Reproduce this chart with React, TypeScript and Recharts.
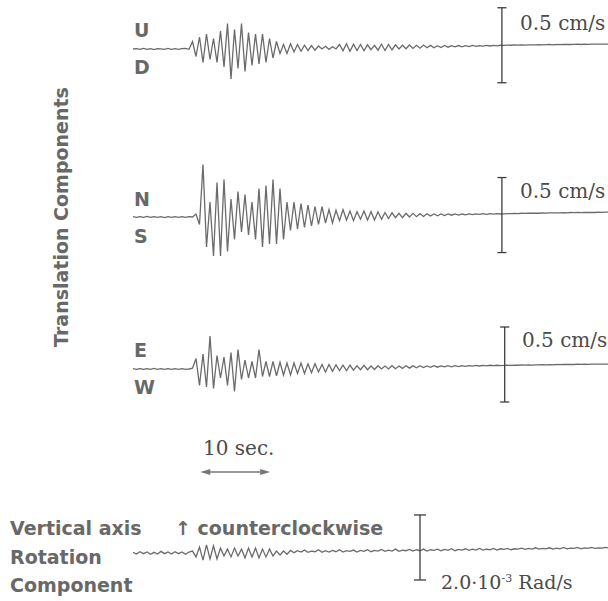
import React from 'react';
import { LineChart, Line, XAxis, YAxis, ReferenceLine } from 'recharts';

// Sampling step of every record (seconds)
const SAMPLE_STEP_S = 0.5;

// Up-Down velocity (cm/s)
const udVelocity = [
  0, .003, -.002, .004, -.003, .002, -.004, .003, .001, -.003, .004, -.002, .003, -.003, .002, .004, -.002,
  .05, -.05, .08, -.09, .1, -.07, .07, -.09, .12, -.12, .17, -.2, .13, -.13, .17, -.15, .11, -.11, .1, -.1, .1, -.09, .07, -.06, .05, -.03, .03, -.03,
  .035, -.02, .03, -.015, .025, -.01, .022, -.008, .02, 0, .018, -.002, .015, 0, .03, -.012, .035, -.015, .032, -.01,
  .03, -.012, .028, -.005, .025, -.008, .032, -.01, .03, -.005, .028, 0, .025, .002, .027, .004, .025, .005, .026, .008,
  .024, .008, .022, .01, .024, .012, .022, .014, .023, .015, .022, .016, .024, .017, .023, .019, .024, .02, .024, .021, .025,
  .024, .026, .025, .027, .026, .028, .026, .027, .028, .027, .029, .028, .029, .03, .028, .03, .029, .031, .03, .03,
  .031, .032, .03, .032, .031, .033, .032, .032, .033, .033, .033,
];

// North-South velocity (cm/s)
const nsVelocity = [
  .003, -.003, .002, -.002, .004, -.003, .003, -.002, .002, -.004, .003, -.002, .003, -.003, .002, -.002, .003, 0,
  .02, -.05, .35, -.2, .1, -.26, .23, -.26, .25, -.23, .12, -.15, .17, -.1, .15, -.12, .1, -.15, .19, -.2, .21, -.18, .25, -.18, .19, -.15,
  .1, -.09, .1, -.08, .09, -.07, .08, -.06, .07, -.05, .07, -.04, .05, -.04, .045, -.025, .05, -.02, .04, -.025,
  .035, -.015, .04, -.02, .035, -.02, .035, -.015, .03, -.01, .028, -.005, .025, -.005, .025, 0, .024, .002, .022, .004,
  .022, .006, .02, .008, .02, .01, .021, .012, .02, .013, .02, .014, .021, .016, .021, .017, .022, .018, .022, .019, .023, .02,
  .021, .023, .022, .024, .023, .025, .024, .026, .025, .026, .025, .027, .026, .028, .027, .028, .027, .029, .028, .03,
  .029, .03, .029, .031, .03, .031, .03, .032, .031, .032, .032,
];

// East-West velocity (cm/s)
const ewVelocity = [
  .002, -.003, .003, -.002, .002, -.003, .004, -.002, .002, -.003, .003, -.002, .003, -.003, .002, -.002, 0, .005,
  .07, -.11, .1, -.12, .22, -.13, .09, -.06, .08, -.11, .11, -.15, .13, -.07, .06, -.06, .05, -.06, .13, -.05, .05, -.05, .05, -.045, .045, -.04, .04,
  -.04, .04, -.03, .04, -.03, .035, -.025, .035, -.02, .03, -.02, .03, -.015, .028, -.01, .025, -.01, .025, -.008, .022,
  -.005, .025, -.005, .02, -.003, .022, 0, .02, 0, .022, .002, .02, .004, .022, .006, .021, .008, .022, .01, .02,
  .011, .022, .012, .021, .014, .022, .015, .022, .016, .023, .018, .023, .019, .024, .02, .024, .021, .025, .022, .025, .023,
  .024, .025, .024, .026, .025, .027, .026, .027, .026, .028, .027, .029, .028, .029, .028, .03, .029, .031, .03, .031,
  .03, .032, .031, .032, .031, .033, .032, .033, .032, .033, .033,
];

// Rotation rate about the vertical axis (10^-3 rad/s), counterclockwise positive
const rotationRate = [
  .02, -.03, .04, -.02, .03, -.04, .02, -.03, .05, -.02, .03, -.03, .04, -.02, .03, -.04, .03,
  .06, -.12, .18, -.22, .25, -.18, .22, -.18, .15, -.09, .12, -.12, .15, -.09, .12, -.15, .15, -.12, .15, -.15, .12, -.12, .12, -.09, .06, -.06, .06, -.04,
  .08, .01, .07, .03, .09, .02, .06, .04, .1, .02, .07,
  .03, .08, .04, .1, .03, .07, .05, .09, .03, .08, .05,
  .1, .04, .08, .06, .11, .05, .09, .06, .12, .05, .09,
  .07, .11, .06, .1, .07, .12, .06, .1, .08, .12, .07,
  .11, .08, .13, .07, .11, .09, .13, .08, .12, .09, .14,
  .09, .12, .1, .14, .09, .13,
  .11, .14, .1, .13, .12, .15, .11, .14, .12, .16, .12, .14, .13, .16, .12, .15, .13, .17, .13, .15,
  .14, .17, .13, .16, .14, .17, .14, .16, .15, .17, .15,
];

// Scale annotations
const velocityScaleSpan = 0.5;
const velocityScaleLabel = '0.5 cm/s';
const rotationScaleSpan = 2.0;
const timeScaleSpan = 10;
const timeScaleLabel = '10 sec.';

const componentLetters = [
  ['U', 'D'],
  ['N', 'S'],
  ['E', 'W'],
];

// Layout
const WIDTH = 608;
const HEIGHT = 601;
const PLOT_LEFT = 133;
const PX_PER_SEC = 7;
const T_MAX = (WIDTH - PLOT_LEFT) / PX_PER_SEC;
const TRACE_COLOR = '#6b6b6b';
const BAR_COLOR = '#3d3d3d';
const LABEL_COLOR = '#686868';
const SERIF_COLOR = '#4a4a4a';
const SANS = '"DejaVu Sans", sans-serif';
const SERIF = '"DejaVu Serif", serif';

type Bar = { t: number; low: number; span: number; cap: number };

function Trace({
  values,
  zeroY,
  height,
  pxPerUnit,
  bar,
}: {
  values: number[];
  zeroY: number;
  height: number;
  pxPerUnit: number;
  bar: Bar;
}) {
  const rows = values.map((v, i) => ({ t: i * SAMPLE_STEP_S, v }));
  const half = height / 2 / pxPerUnit;
  const top = bar.low + bar.span;
  return (
    <div style={{ position: 'absolute', left: 0, top: zeroY - height / 2 }}>
      <LineChart
        width={WIDTH}
        height={height}
        data={rows}
        margin={{ top: 0, right: 0, bottom: 0, left: PLOT_LEFT }}
      >
        <XAxis dataKey="t" type="number" domain={[0, T_MAX]} allowDataOverflow hide />
        <YAxis type="number" domain={[-half, half]} allowDataOverflow hide />
        <Line
          type="linear"
          dataKey="v"
          stroke={TRACE_COLOR}
          strokeWidth={1.3}
          dot={false}
          isAnimationActive={false}
        />
        <ReferenceLine
          segment={[{ x: bar.t, y: bar.low }, { x: bar.t, y: top }]}
          stroke={BAR_COLOR}
          strokeWidth={1.3}
        />
        <ReferenceLine
          segment={[{ x: bar.t - bar.cap, y: top }, { x: bar.t + bar.cap, y: top }]}
          stroke={BAR_COLOR}
          strokeWidth={1.3}
        />
        <ReferenceLine
          segment={[{ x: bar.t - bar.cap, y: bar.low }, { x: bar.t + bar.cap, y: bar.low }]}
          stroke={BAR_COLOR}
          strokeWidth={1.3}
        />
      </LineChart>
    </div>
  );
}

const xOf = (t: number) => PLOT_LEFT + t * PX_PER_SEC;

export default function App() {
  const arrowStart = 9.6;
  const arrowEnd = arrowStart + timeScaleSpan;
  const ax0 = xOf(arrowStart);
  const ax1 = xOf(arrowEnd);
  const ay = 472;

  const letterRows = [
    { top: 37, bottom: 74 },
    { top: 206, bottom: 243 },
    { top: 357, bottom: 394 },
  ];
  const scaleLabelPos = [
    { x: 520, y: 30 },
    { x: 520, y: 198 },
    { x: 522, y: 347 },
  ];

  const bold = { fontFamily: SANS, fontWeight: 700, fontSize: 19, fill: LABEL_COLOR };
  const serif = { fontFamily: SERIF, fontSize: 20, fill: SERIF_COLOR };

  return (
    <div
      style={{
        position: 'absolute',
        left: 0,
        top: 0,
        width: WIDTH,
        height: HEIGHT,
        background: '#fff',
        overflow: 'hidden',
      }}
    >
      <Trace
        values={udVelocity}
        zeroY={49}
        height={160}
        pxPerUnit={150}
        bar={{ t: 52.7, low: -0.225, span: velocityScaleSpan, cap: 0.65 }}
      />
      <Trace
        values={nsVelocity}
        zeroY={217}
        height={160}
        pxPerUnit={150}
        bar={{ t: 52.7, low: -0.237, span: velocityScaleSpan, cap: 0.65 }}
      />
      <Trace
        values={ewVelocity}
        zeroY={369}
        height={160}
        pxPerUnit={150}
        bar={{ t: 53.1, low: -0.22, span: velocityScaleSpan, cap: 0.65 }}
      />
      <Trace
        values={rotationRate}
        zeroY={553}
        height={100}
        pxPerUnit={32.5}
        bar={{ t: 41, low: -0.83, span: rotationScaleSpan, cap: 0.86 }}
      />

      <svg
        width={WIDTH}
        height={HEIGHT}
        style={{ position: 'absolute', left: 0, top: 0, pointerEvents: 'none' }}
      >
        <text
          {...bold}
          x={68}
          y={217}
          textAnchor="middle"
          transform="rotate(-90 68 217)"
        >
          Translation Components
        </text>

        {componentLetters.map(([up, down], k) => (
          <g key={up}>
            <text {...bold} x={134} y={letterRows[k].top}>{up}</text>
            <text {...bold} x={134} y={letterRows[k].bottom}>{down}</text>
            <text {...serif} x={scaleLabelPos[k].x} y={scaleLabelPos[k].y}>{velocityScaleLabel}</text>
          </g>
        ))}

        <text {...serif} x={203} y={455}>{timeScaleLabel}</text>
        <line x1={ax0 + 4} y1={ay} x2={ax1 - 4} y2={ay} stroke="#777" strokeWidth={1.3} />
        <polygon points={`${ax0},${ay} ${ax0 + 10},${ay - 3} ${ax0 + 10},${ay + 3}`} fill="#777" />
        <polygon points={`${ax1},${ay} ${ax1 - 10},${ay - 3} ${ax1 - 10},${ay + 3}`} fill="#777" />

        <text {...bold} x={10} y={535}>Vertical axis</text>
        <text {...bold} x={175} y={535}>↑ counterclockwise</text>
        <text {...bold} x={10} y={564}>Rotation</text>
        <text {...bold} x={10} y={592}>Component</text>

        <text {...serif} fontSize={19} x={441} y={589}>
          2.0·10
          <tspan dy={-7} fontSize={11}>-3</tspan>
          <tspan dy={7} fontSize={19}> Rad/s</tspan>
        </text>
      </svg>
    </div>
  );
}
